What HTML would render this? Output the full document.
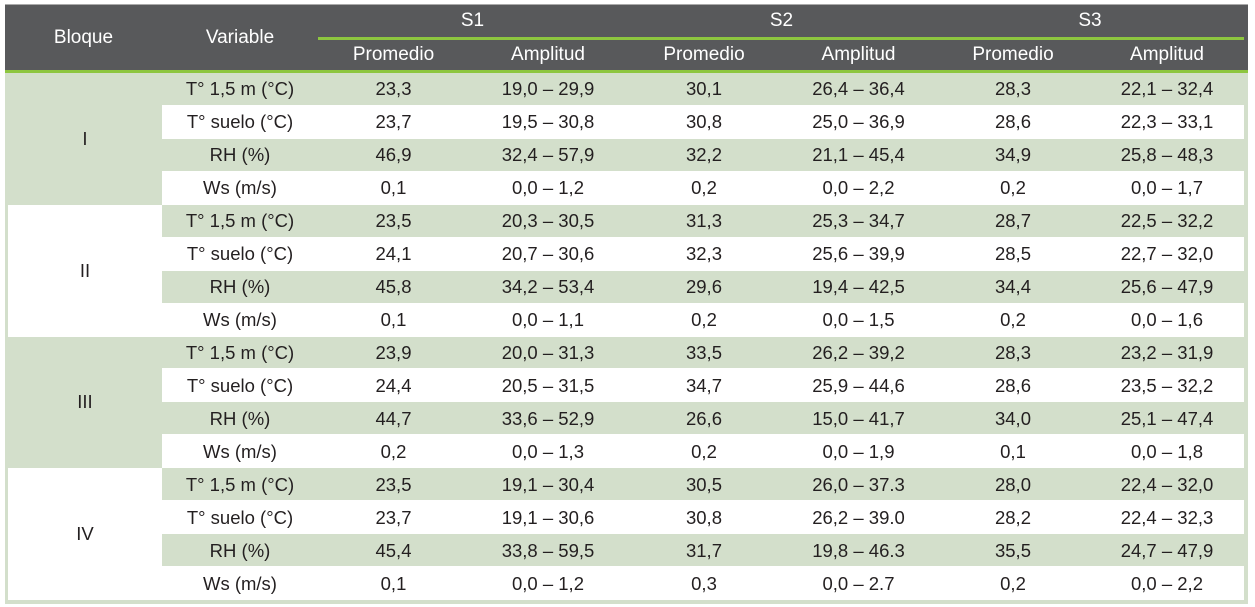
<!DOCTYPE html>
<html><head><meta charset="utf-8"><style>
body{margin:0;width:1255px;height:607px;background:#fff;position:relative;font-family:"Liberation Sans",sans-serif;overflow:hidden}
div{position:absolute;box-sizing:border-box}
.c{display:flex;align-items:center;justify-content:center;font-size:18.5px;color:#231f20}
.h{display:flex;align-items:center;justify-content:center;font-size:19px;color:#fff}
</style></head><body>
<div style="left:5px;top:4px;width:1243px;height:600px;background:#d3dfcb"></div>
<div style="left:8px;top:73px;width:1236px;height:527px;background:#fff"></div>
<div style="left:5px;top:4px;width:1243px;height:66px;background:#58595b;border-top:1px solid #aaa"></div>
<div style="left:5px;top:70px;width:1243px;height:3px;background:#8dc63f"></div>
<div style="left:318px;top:37px;width:926px;height:3px;background:#8dc63f"></div>
<div class="h" style="left:5px;top:5px;width:157px;height:65px">Bloque</div>
<div class="h" style="left:162px;top:5px;width:156px;height:65px">Variable</div>
<div id="grid"></div>
<script>
const cols=[5,162,318,469,627,781,936,1090,1244];
const groups=["S1","S2","S3"];
const subs=["Promedio","Amplitud"];
const blocks=["I","II","III","IV"];
const vars=["T° 1,5 m (°C)","T° suelo (°C)","RH (%)","Ws (m/s)"];
const values=[
["23,3","19,0 – 29,9","30,1","26,4 – 36,4","28,3","22,1 – 32,4"],
["23,7","19,5 – 30,8","30,8","25,0 – 36,9","28,6","22,3 – 33,1"],
["46,9","32,4 – 57,9","32,2","21,1 – 45,4","34,9","25,8 – 48,3"],
["0,1","0,0 – 1,2","0,2","0,0 – 2,2","0,2","0,0 – 1,7"],
["23,5","20,3 – 30,5","31,3","25,3 – 34,7","28,7","22,5 – 32,2"],
["24,1","20,7 – 30,6","32,3","25,6 – 39,9","28,5","22,7 – 32,0"],
["45,8","34,2 – 53,4","29,6","19,4 – 42,5","34,4","25,6 – 47,9"],
["0,1","0,0 – 1,1","0,2","0,0 – 1,5","0,2","0,0 – 1,6"],
["23,9","20,0 – 31,3","33,5","26,2 – 39,2","28,3","23,2 – 31,9"],
["24,4","20,5 – 31,5","34,7","25,9 – 44,6","28,6","23,5 – 32,2"],
["44,7","33,6 – 52,9","26,6","15,0 – 41,7","34,0","25,1 – 47,4"],
["0,2","0,0 – 1,3","0,2","0,0 – 1,9","0,1","0,0 – 1,8"],
["23,5","19,1 – 30,4","30,5","26,0 – 37.3","28,0","22,4 – 32,0"],
["23,7","19,1 – 30,6","30,8","26,2 – 39.0","28,2","22,4 – 32,3"],
["45,4","33,8 – 59,5","31,7","19,8 – 46.3","35,5","24,7 – 47,9"],
["0,1","0,0 – 1,2","0,3","0,0 – 2.7","0,2","0,0 – 2,2"]];
const top0=73,rh=32.94,G="#d3dfcb";
function mk(cls,l,t,w,h,txt,bg){const d=document.createElement('div');d.className=cls;d.style.cssText=`left:${l}px;top:${t}px;width:${w}px;height:${h}px;`+(bg?`background:${bg};`:'');d.textContent=txt;document.body.appendChild(d);return d;}
groups.forEach((g,i)=>{
const d=mk('h',cols[2+2*i],5,cols[4+2*i]-cols[2+2*i],32,g);


subs.forEach((s,j)=>{
const e=mk('h',cols[2+2*i+j],40,cols[3+2*i+j]-cols[2+2*i+j],30,s);


});});
blocks.forEach((b,bi)=>{
const y=top0+bi*4*rh;
const d=mk('c',8,y,154,4*rh,b,bi%2===0?G:null);


vars.forEach((v,vi)=>{
const r=bi*4+vi,ry=top0+r*rh;
const bg=vi%2===0?G:null;
if(bg){const s=mk('',162,ry,1082,rh-1,'',bg);

}
const vc=mk('c',162,ry,156,rh,v);


values[r].forEach((t,ci)=>{
const c=mk('c',cols[2+ci],ry,cols[3+ci]-cols[2+ci],rh,t);


});});});
</script>
</body></html>
